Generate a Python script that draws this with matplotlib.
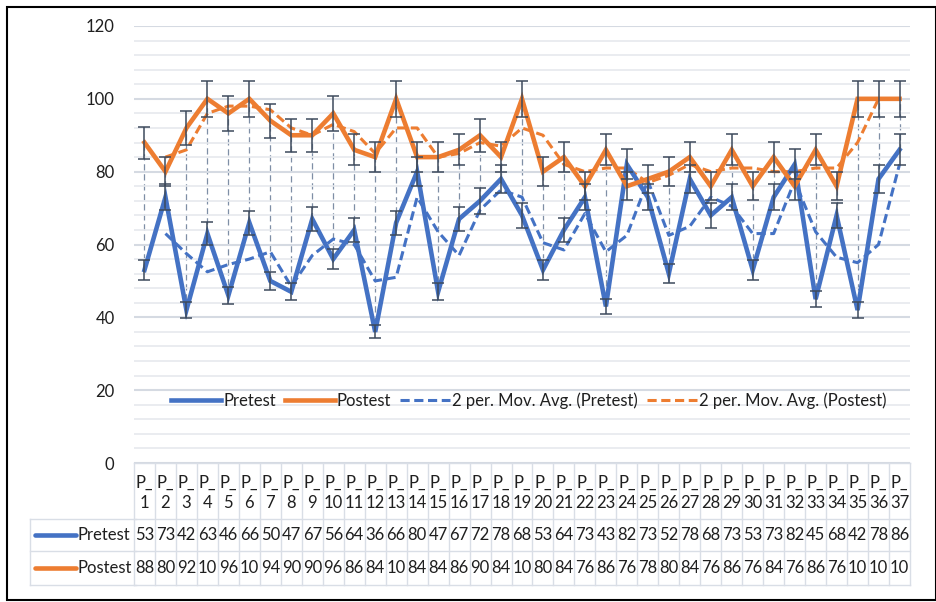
import matplotlib
matplotlib.use('Agg')
import matplotlib.pyplot as plt
import numpy as np
from matplotlib.transforms import blended_transform_factory
from matplotlib.lines import Line2D
from matplotlib.patches import Rectangle

participants = [f"P_{i}" for i in range(1, 38)]
pretest = [53, 73, 42, 63, 46, 66, 50, 47, 67, 56, 64, 36, 66, 80, 47, 67, 72, 78, 68, 53,
           64, 73, 43, 82, 73, 52, 78, 68, 73, 53, 73, 82, 45, 68, 42, 78, 86]
postest = [88, 80, 92, 100, 96, 100, 94, 90, 90, 96, 86, 84, 100, 84, 84, 86, 90, 84, 100, 80,
           84, 76, 86, 76, 78, 80, 84, 76, 86, 76, 84, 76, 86, 76, 100, 100, 100]
series_names = ["Pretest", "Postest"]
y_ticks = [0, 20, 40, 60, 80, 100, 120]

plt.rcParams['font.family'] = ['Lato', 'DejaVu Sans']
FS = 12
BLUE = '#4472C4'
ORANGE = '#ED7D31'
ERR = '#3d4a5c'
TXT = '#1f1f1f'
GRID_MIN = '#e6e9ee'
GRID_MAJ = '#d5dae2'
TBL = '#d9dee6'
DASH = (0, (3, 1.5))

W, H = 937, 602
fig = plt.figure(figsize=(W / 100, H / 100), dpi=100)

def fx(px):
    return px / W

def fy(py):
    return 1 - py / H

# main axes
ax = fig.add_axes([fx(134), fy(463), fx(910) - fx(134), fy(26) - fy(463)])
n = len(pretest)
x = np.arange(n)
pre = np.array(pretest, dtype=float)
post = np.array(postest, dtype=float)

ax.set_xlim(-0.5, n - 0.5)
ax.set_ylim(0, 120)
ax.set_yticks(y_ticks)
ax.set_yticks(np.arange(0, 121, 4), minor=True)
ax.grid(True, which='minor', axis='y', color=GRID_MIN, lw=1.2, zorder=0)
ax.grid(True, which='major', axis='y', color=GRID_MAJ, lw=1.5, zorder=0)
ax.set_xticks([])
ax.tick_params(axis='y', which='both', length=0, pad=14, labelsize=FS, labelcolor=TXT)
for s in ax.spines.values():
    s.set_visible(False)

# high-low lines
ax.vlines(x, pre, post, colors='#7f8fa6', linestyles=(0, (5, 3)), lw=0.9, zorder=1)

# series lines
ax.plot(x, pre, color=BLUE, lw=3.3, zorder=3, solid_joinstyle='miter')
ax.plot(x, post, color=ORANGE, lw=3.3, zorder=3, solid_joinstyle='miter')

# 2-period moving averages
ma_pre = (pre[1:] + pre[:-1]) / 2
ma_post = (post[1:] + post[:-1]) / 2
ax.plot(x[1:], ma_pre, color=BLUE, lw=2.2, ls=DASH, zorder=2)
ax.plot(x[1:], ma_post, color=ORANGE, lw=2.2, ls=DASH, zorder=2)

# error bars (5%)
ax.errorbar(x, pre, yerr=0.05 * pre, fmt='none', ecolor=ERR, elinewidth=1.1,
            capsize=4, capthick=1.1, zorder=4)
ax.errorbar(x, post, yerr=0.05 * post, fmt='none', ecolor=ERR, elinewidth=1.1,
            capsize=4, capthick=1.1, zorder=4)

# legend
handles = [
    Line2D([], [], color=BLUE, lw=3.3),
    Line2D([], [], color=ORANGE, lw=3.3),
    Line2D([], [], color=BLUE, lw=2.2, ls=DASH),
    Line2D([], [], color=ORANGE, lw=2.2, ls=DASH),
]
labels = ["Pretest", "Postest", "2 per. Mov. Avg. (Pretest)", "2 per. Mov. Avg. (Postest)"]
leg = fig.legend(handles, labels, loc='center', bbox_to_anchor=(fx(529), fy(401)), ncol=4,
                 frameon=False, fontsize=FS, handlelength=3.0, handletextpad=0.12,
                 columnspacing=0.55, labelcolor=TXT)

# data table
tax = fig.add_axes([fx(30), fy(585), fx(910) - fx(30), fy(463) - fy(585)])
tax.set_xlim(0, 1)
tax.set_ylim(122, 0)
tax.axis('off')
bt = blended_transform_factory(ax.transData, tax.transData)
for i in range(n + 1):
    xi = i - 0.5
    tax.plot([xi, xi], [0, 122], color=TBL, lw=1, transform=bt, clip_on=False)
for yv in [0, 56, 88, 122]:
    tax.plot([-0.5, n - 0.5], [yv, yv], color=TBL, lw=1, transform=bt, clip_on=False)
left_t = blended_transform_factory(tax.transAxes, tax.transData)
tax.plot([0, 0], [56, 122], color=TBL, lw=1, transform=left_t, clip_on=False)
for yv in [56, 88, 122]:
    tax.plot([0, 0.12], [yv, yv], color=TBL, lw=1, transform=left_t, clip_on=False)

for i, p in enumerate(participants):
    a, b = p.split('_')
    tax.text(i, 20, a + '_', transform=bt, ha='center', va='center', fontsize=FS, color=TXT)
    tax.text(i, 40, b, transform=bt, ha='center', va='center', fontsize=FS, color=TXT)
    tax.text(i, 72, str(pretest[i])[:2], transform=bt, ha='center', va='center',
             fontsize=FS, color=TXT)
    tax.text(i, 105, str(postest[i])[:2], transform=bt, ha='center', va='center',
             fontsize=FS, color=TXT)

for (yc, name, col) in [(72, series_names[0], BLUE), (105, series_names[1], ORANGE)]:
    tax.plot([0.006, 0.052], [yc, yc], color=col, lw=3.3, transform=left_t,
             solid_capstyle='round', clip_on=False)
    tax.text(0.054, yc, name, transform=left_t, ha='left', va='center', fontsize=FS, color=TXT)

# outer border
fig.patches.append(Rectangle((fx(7), fy(600)), fx(936) - fx(7), fy(7) - fy(600),
                             transform=fig.transFigure, fill=False, ec='#000000', lw=1.5))

fig.savefig('out.png', dpi=100)
